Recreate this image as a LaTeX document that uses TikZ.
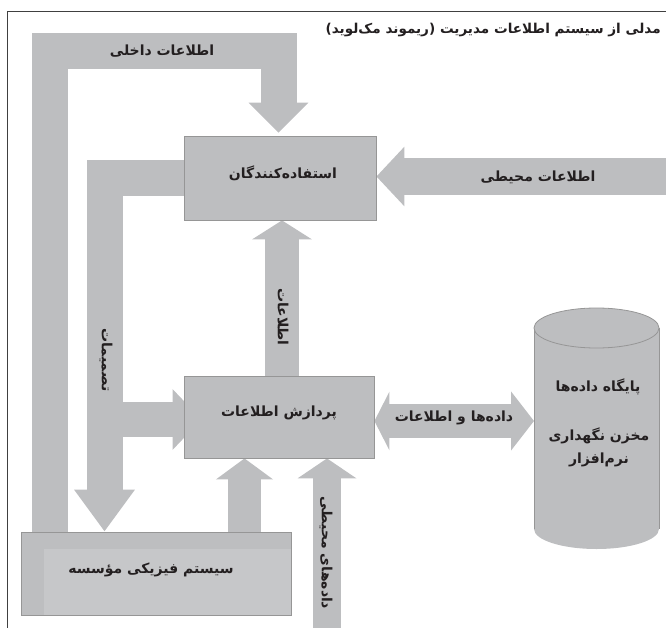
\documentclass[tikz,border=0pt]{standalone}
\usepackage{fontspec}
\usepackage{tikz}
\usetikzlibrary{arrows.meta,calc}
\TeXXeTstate=1
\newfontfamily\fa[Script=Arabic]{DejaVu Sans}
\definecolor{flowgray}{RGB}{189,190,192}
\definecolor{syslight}{RGB}{198,199,201}
\definecolor{edgegray}{RGB}{150,150,150}
\definecolor{inkgray}{RGB}{35,31,32}
\pgfdeclarelayer{back}
\pgfsetlayers{back,main}

\begin{document}
\begin{tikzpicture}[
                    x=1pt, y=-1pt,
                    every node/.style={
                        text=inkgray,
                        inner sep=0pt,
                        font=\fa\bfseries\fontsize{14}{23}\selectfont
                    },
                    box/.style={
                        rectangle,
                        draw=edgegray,
                        fill=flowgray,
                        line width=0.8pt
                    },
                    flow/.style={
                        draw=flowgray,
                        line join=miter
                    }
                ]
                    \useasboundingbox (0,0) rectangle (666,628);

                    % Frame and title
                    \draw[line width=0.9pt, black!75] (666,11) -- (7,11) -- (7,628);
                    \node[anchor=east, font=\fa\bfseries\fontsize{13.6}{15}\selectfont] (title) at (661,30) {\beginR مدلی از سیستم اطلاعات مدیریت (ریموند مک^^^^200cلوید)\endR};

                    % Boxes
                    \node[box, minimum width=192pt, minimum height=84pt] (users) at (280,178) {};
                    \node (userslbl) at (283,173) {\beginR استفاده^^^^200cکنندگان\endR};
                    \node[box, minimum width=190pt, minimum height=82pt] (proc) at (279,417) {};
                    \node (proclbl) at (279,413) {\beginR پردازش اطلاعات\endR};
                    \node[box, minimum width=270pt, minimum height=83pt] (sys) at (156,573.5) {};
                    \fill[syslight] (43.5,549) rectangle (290.5,614.6);
                    \node (syslbl) at (151,570) {\beginR سیستم فیزیکی مؤسسه\endR};

                    % Database
                    \fill[flowgray] (596.5,529) ellipse [x radius=62.5, y radius=20];
                    \fill[flowgray] (534,328) rectangle (659,529);
                    \draw[edgegray, line width=0.5pt] (534,328) -- (534,529) (659,328) -- (659,529);
                    \draw[edgegray, fill=flowgray, line width=0.8pt] (596.5,328) ellipse [x radius=62.5, y radius=20];
                    \coordinate (dbside) at (534,421);
                    \node (dbname) at (598,387) {\beginR پایگاه داده^^^^200cها\endR};
                    \node[align=center] (dbstore) at (599,447) {\beginR مخزن نگهداری\endR\\\beginR نرم^^^^200cافزار\endR};

                    % Edges
                    \coordinate (innerL) at (50,51);
                    \coordinate (innerR) at (278.5,51);
                    \coordinate (decTop) at (104.5,178);
                    \coordinate (decMid) at (104.5,419.5);
                    \coordinate (infoX) at (282,300);
                    \coordinate (physX) at (244.5,500);
                    \coordinate (envIn) at (666,176.5);
                    \coordinate (envData) at (327,628);
                    \begin{pgfonlayer}{back}
                    \draw[flow, line width=36pt, -{Triangle[length=30pt, width=58pt]}] (innerL |- sys.north) -- (innerL) -- (innerR) -- (innerR |- users.north) [shorten >=3pt];
                    \draw[flow, line width=37pt, -{Triangle[length=28pt, width=58pt]}] (envIn) -- (users.east |- envIn);
                    \draw[flow, line width=36pt, -{Triangle[length=42pt, width=58pt]}] (users.west) -- (decTop) -- (decTop |- sys.north);
                    \draw[flow, line width=35pt, -{Triangle[length=29pt, width=59pt]}] (decMid) -- ($(proc.west |- decMid)+(18,0)$);
                    \draw[flow, line width=34pt, -{Triangle[length=19pt, width=59pt]}] (infoX |- proc.north) -- (infoX |- users.south);
                    \draw[flow, line width=34pt, {Triangle[length=15pt, width=58pt]}-{Triangle[length=23pt, width=58pt]}] (proc.east |- dbside) -- (dbside);
                    \draw[flow, line width=33pt, -{Triangle[length=21pt, width=56pt]}] (physX |- sys.north) -- (physX |- proc.south);
                    \draw[flow, line width=28pt, -{Triangle[length=20pt, width=58pt]}] (envData) -- (envData |- proc.south);
                    \end{pgfonlayer}

                    % Edge labels
                    \node (innerlbl) at (162,51) {\beginR اطلاعات داخلی\endR};
                    \node (envlbl) at (538,177) {\beginR اطلاعات محیطی\endR};
                    \node[rotate=-90] (declbl) at (106,360) {\beginR تصمیمات\endR};
                    \node[rotate=-90] (infolbl) at (283,317) {\beginR اطلاعات\endR};
                    \node[rotate=-90] (envdatalbl) at (326,553) {\beginR داده^^^^200cهای محیطی\endR};
                    \node (datalbl) at (454,418) {\beginR داده^^^^200cها و اطلاعات\endR};
                \end{tikzpicture}
\end{document}
